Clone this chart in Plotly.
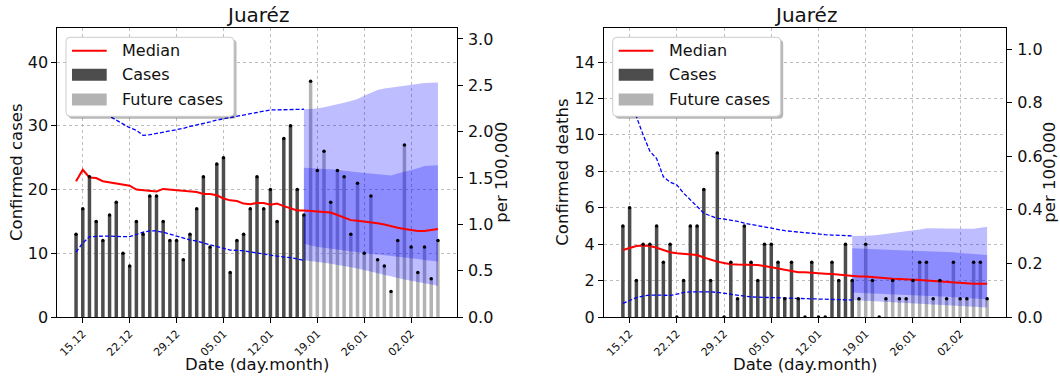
import pandas as pd
import plotly.graph_objects as go

# ---------------- data ----------------
start_date = "2020-12-14"
n_obs = 35
n_fut = 20
dates = pd.date_range(start_date, periods=n_obs + n_fut, freq="D")

tick_dates = ["2020-12-15", "2020-12-22", "2020-12-29", "2021-01-05",
              "2021-01-12", "2021-01-19", "2021-01-26", "2021-02-02"]
tick_labels = ["15.12", "22.12", "29.12", "05.01", "12.01", "19.01", "26.01", "02.02"]

# Cases (left panel)
cases_obs = [13, 17, 22, 15, 12, 16, 18, 10, 8, 15, 13, 19, 19, 15, 12, 12, 9, 13,
             17, 22, 11, 24, 25, 7, 12, 13, 17, 22, 17, 20, 15, 28, 30, 20, 16]
cases_fut = [37, 23, 26, 18, 23, 22, 13, 21, 10, 19, 9, 8, 4, 12, 27, 11, 7, 11, 6, 12]
cases_median = [21.3, 23.1, 21.9, 21.8, 21.3, 21.1, 20.9, 20.8, 20.6, 20.0, 19.9, 19.7,
                19.7, 20.1, 20.0, 19.8, 19.7, 19.7, 19.6, 19.3, 19.3, 19.1, 18.6, 18.3,
                18.2, 17.8, 17.7, 17.9, 17.9, 17.6, 17.8, 17.4, 17.0, 16.7, 16.7,
                16.6, 16.6, 16.5, 16.4, 16.0, 15.6, 15.2, 15.1, 15.0, 14.9, 14.7, 14.5,
                14.2, 14.0, 13.8, 13.6, 13.5, 13.5, 13.6, 13.8]
cases_hist_upper = [42.0, 38.5, 35.5, 33.8, 32.5, 31.5, 30.9, 30.3, 29.7, 29.3, 28.5, 28.6,
                    28.8, 29.0, 29.1, 29.3, 29.6, 29.9, 30.1, 30.4, 30.6, 30.9, 31.1, 31.4,
                    31.6, 31.8, 32.0, 32.2, 32.4, 32.5, 32.5, 32.5, 32.6, 32.6, 32.6]
cases_hist_lower = [10.2, 11.6, 12.6, 12.7, 12.7, 12.7, 12.6, 12.6, 12.6, 13.0, 13.3, 13.5,
                    13.5, 13.3, 13.0, 12.6, 12.4, 12.1, 11.9, 11.6, 11.4, 11.1, 10.8, 10.5,
                    10.45, 10.4, 10.2, 10.1, 9.9, 9.7, 9.6, 9.5, 9.3, 9.1, 8.9]
cases_outer_upper = [32.6, 32.65, 32.7, 32.9, 33.1, 33.3, 33.6, 33.9, 34.2, 34.7, 35.2,
                     35.6, 35.85, 36.0, 36.2, 36.35, 36.5, 36.6, 36.7, 36.75, 36.8]
cases_outer_lower = [8.9, 8.8, 8.7, 8.5, 8.35, 8.2, 8.0, 7.8, 7.6, 7.35, 7.05, 6.8, 6.55,
                     6.3, 6.1, 5.9, 5.7, 5.5, 5.3, 5.1, 4.9]
cases_inner_upper = [23.4, 23.35, 23.3, 23.25, 23.2, 23.1, 22.95, 22.8, 22.7, 22.6, 22.5,
                     22.4, 22.3, 22.2, 22.5, 22.75, 23.0, 23.35, 23.7, 23.8, 23.8]
cases_inner_lower = [11.5, 11.2, 11.0, 10.85, 10.7, 10.6, 10.45, 10.3, 10.2, 10.05, 9.9,
                     9.8, 9.7, 9.6, 9.5, 9.35, 9.2, 9.1, 8.95, 8.8, 8.7]

# Deaths (right panel)
deaths_obs = [5, 6, 2, 4, 4, 5, 3, 4, 0, 2, 5, 5, 7, 2, 9, 0, 3, 1, 5, 3, 2, 4, 4, 3,
              1, 3, 1, 0, 3, 0, 0, 3, 2, 4, 2]
deaths_fut = [1, 4, 2, 0, 1, 2, 1, 1, 2, 3, 3, 1, 2, 1, 3, 1, 1, 3, 3, 1]
deaths_median = [3.68, 3.8, 3.9, 3.92, 3.9, 3.8, 3.68, 3.56, 3.5, 3.46, 3.46, 3.4, 3.27,
                 3.15, 3.04, 2.97, 2.9, 2.88, 2.87, 2.87, 2.86, 2.8, 2.73, 2.65, 2.58, 2.5,
                 2.46, 2.45, 2.44, 2.41, 2.38, 2.36, 2.32, 2.28, 2.25, 2.23, 2.22, 2.18,
                 2.15, 2.12, 2.1, 2.09, 2.08, 2.07, 2.03, 2.0, 1.97, 1.94, 1.91, 1.89,
                 1.86, 1.84, 1.83, 1.83, 1.83]
deaths_hist_upper = [14.0, 12.5, 11.0, 10.0, 9.1, 8.7, 7.7, 7.4, 7.25, 6.8, 6.43, 6.1,
                     5.7, 5.55, 5.42, 5.38, 5.33, 5.25, 5.15, 5.08, 5.0, 4.96, 4.9, 4.82,
                     4.74, 4.7, 4.65, 4.63, 4.6, 4.55, 4.52, 4.5, 4.48, 4.46, 4.45]
deaths_hist_lower = [0.75, 0.9, 1.06, 1.15, 1.2, 1.2, 1.19, 1.19, 1.25, 1.35, 1.38, 1.39,
                     1.39, 1.38, 1.35, 1.3, 1.25, 1.18, 1.12, 1.1, 1.09, 1.08, 1.08, 1.06,
                     1.05, 1.04, 1.03, 1.01, 0.99, 0.97, 0.97, 0.96, 0.95, 0.94, 0.93]
deaths_outer_upper = [4.45, 4.45, 4.45, 4.48, 4.52, 4.56, 4.6, 4.65, 4.7, 4.74, 4.8, 4.87,
                      4.86, 4.84, 4.83, 4.82, 4.83, 4.84, 4.85, 4.9, 4.96]
deaths_inner_upper = [3.77, 3.75, 3.74, 3.72, 3.70, 3.68, 3.67, 3.66, 3.65, 3.64, 3.63,
                      3.62, 3.60, 3.58, 3.56, 3.55, 3.52, 3.49, 3.46, 3.43, 3.40]
deaths_inner_lower = [1.34, 1.32, 1.30, 1.29, 1.27, 1.25, 1.24, 1.22, 1.21, 1.20, 1.19,
                      1.17, 1.15, 1.13, 1.11, 1.09, 1.07, 1.05, 1.02, 1.0, 0.97]
deaths_outer_lower = [0.93, 0.91, 0.89, 0.87, 0.85, 0.83, 0.81, 0.79, 0.77, 0.76, 0.75,
                      0.73, 0.71, 0.68, 0.66, 0.63, 0.61, 0.58, 0.56, 0.54, 0.52]

population_per_100k = 14.5
title_text = "Juaréz"

# ---------------- styling ----------------
W, H = 1060, 382
FONT = "DejaVu Sans"
DARK = "#4d4d4d"
LIGHT = "#b3b3b3"
BAND = "rgba(0,0,255,0.26)"


def px(x):
    return x / W


def py(y):
    return 1 - y / H


y_dom = [py(317), py(28.3)]
panels = [
    dict(x0=57.3, x1=456.7, xa="x", ya="y", ya2="y2"),
    dict(x0=604.0, x1=1006.0, xa="x2", ya="y3", ya2="y4"),
]

obs_dates = dates[:n_obs]
fut_dates = dates[n_obs:]
band_dates = dates[n_obs - 1:]
bar_w = 0.52 * 86400000

fig = go.Figure()

datasets = [
    dict(obs=cases_obs, fut=cases_fut, med=cases_median, hu=cases_hist_upper,
         hl=cases_hist_lower, ou=cases_outer_upper, ol=cases_outer_lower,
         iu=cases_inner_upper, il=cases_inner_lower),
    dict(obs=deaths_obs, fut=deaths_fut, med=deaths_median, hu=deaths_hist_upper,
         hl=deaths_hist_lower, ou=deaths_outer_upper, ol=deaths_outer_lower,
         iu=deaths_inner_upper, il=deaths_inner_lower),
]

for p, d in zip(panels, datasets):
    xa, ya = p["xa"], p["ya"]
    fig.add_trace(go.Bar(x=obs_dates, y=d["obs"], width=bar_w, marker_color=DARK,
                         marker_line_width=0, xaxis=xa, yaxis=ya, showlegend=False))
    fig.add_trace(go.Bar(x=fut_dates, y=d["fut"], width=bar_w, marker_color=LIGHT,
                         marker_line_width=0, xaxis=xa, yaxis=ya, showlegend=False))
    for lo, hi in ((d["ol"], d["ou"]), (d["il"], d["iu"])):
        fig.add_trace(go.Scatter(x=band_dates, y=lo, mode="lines", line=dict(width=0),
                                 xaxis=xa, yaxis=ya, showlegend=False, hoverinfo="skip"))
        fig.add_trace(go.Scatter(x=band_dates, y=hi, mode="lines", line=dict(width=0),
                                 fill="tonexty", fillcolor=BAND, xaxis=xa, yaxis=ya,
                                 showlegend=False, hoverinfo="skip"))
    for series in (d["hu"], d["hl"]):
        fig.add_trace(go.Scatter(x=obs_dates, y=series, mode="lines",
                                 line=dict(color="#0000ff", width=1.3, dash="4px,2px"),
                                 xaxis=xa, yaxis=ya, showlegend=False))
    fig.add_trace(go.Scatter(x=dates, y=d["med"], mode="lines",
                             line=dict(color="#ff0000", width=2),
                             xaxis=xa, yaxis=ya, showlegend=False))
    fig.add_trace(go.Scatter(x=dates, y=list(d["obs"]) + list(d["fut"]), mode="markers",
                             marker=dict(color="black", size=3.5),
                             xaxis=xa, yaxis=ya, showlegend=False))
    # per-100k axis (invisible reference trace)
    fig.add_trace(go.Scatter(x=obs_dates, y=[v / population_per_100k for v in d["obs"]],
                             mode="markers", marker=dict(opacity=0), xaxis=xa,
                             yaxis=p["ya2"], showlegend=False, hoverinfo="skip"))

x_range = [pd.Timestamp(start_date) - pd.Timedelta(days=2.8),
           pd.Timestamp(start_date) + pd.Timedelta(days=56.8)]

axis_common = dict(showline=True, linecolor="black", linewidth=1, ticks="outside",
                   ticklen=5, tickcolor="black", tickwidth=1, automargin=False,
                   tickfont=dict(family=FONT, size=16, color="#111"), zeroline=False)
grid = dict(showgrid=True, gridcolor="#bdbdbd", gridwidth=0.8, griddash="dot")

layout = dict(
    width=W, height=H, margin=dict(l=0, r=0, t=0, b=0, pad=0, autoexpand=False),
    paper_bgcolor="white", plot_bgcolor="white", barmode="overlay",
    showlegend=False, font=dict(family=FONT, color="#111"),
)
y_ranges = [(45.3, 10, 3.115, 0.5), (15.85, 2, 1.078, 0.2)]
for i, (p, (ymax, ydt, y2max, y2dt)) in enumerate(zip(panels, y_ranges)):
    xk = "xaxis" if i == 0 else "xaxis2"
    yk = "yaxis" if i == 0 else "yaxis3"
    y2k = "yaxis2" if i == 0 else "yaxis4"
    layout[xk] = dict(domain=[px(p["x0"]), px(p["x1"])], anchor=p["ya"], type="date",
                      range=x_range, tickvals=tick_dates, ticktext=tick_labels,
                      tickangle=-45, mirror=True, **grid,
                      **{**axis_common, "tickfont": dict(family=FONT, size=11, color="#111")})
    layout[yk] = dict(domain=y_dom, anchor=p["xa"], range=[0, ymax], dtick=ydt, tick0=0,
                      **grid, **axis_common)
    layout[y2k] = dict(overlaying=p["ya"], side="right", anchor=p["xa"], range=[0, y2max],
                       dtick=y2dt, tick0=0, tickformat=".1f", showgrid=False,
                       ticklabelstandoff=2, **axis_common)

fig.update_layout(**layout)

# ---------------- titles / labels ----------------
def ann(text, x, y, size, angle=0, xanchor="center"):
    fig.add_annotation(text=text, x=px(x), y=py(y), xref="paper", yref="paper",
                       showarrow=False, textangle=angle, xanchor=xanchor, yanchor="middle",
                       font=dict(family=FONT, size=size, color="#111"))

ycenter = (317 + 28.3) / 2
for p, ylab, rx in ((panels[0], "Confirmed cases", 502), (panels[1], "Confirmed deaths", 1050)):
    cx = (p["x0"] + p["x1"]) / 2
    ann(title_text, cx, 15, 20)
    ann("Date (day.month)", cx, 364, 16.5)
    ann(ylab, p["x0"] - 41, ycenter, 16.5, angle=-90)
    ann("per 100,000", rx, ycenter, 16.5, angle=-90)

# ---------------- legends (matplotlib style) ----------------
shapes = []


def rounded(x0, y0, x1, y1, r):
    pts = [
        f"M {px(x0 + r)},{py(y0)}", f"L {px(x1 - r)},{py(y0)}",
        f"Q {px(x1)},{py(y0)} {px(x1)},{py(y0 + r)}", f"L {px(x1)},{py(y1 - r)}",
        f"Q {px(x1)},{py(y1)} {px(x1 - r)},{py(y1)}", f"L {px(x0 + r)},{py(y1)}",
        f"Q {px(x0)},{py(y1)} {px(x0)},{py(y1 - r)}", f"L {px(x0)},{py(y0 + r)}",
        f"Q {px(x0)},{py(y0)} {px(x0 + r)},{py(y0)}", "Z",
    ]
    return " ".join(pts)


legend_labels = ["Median", "Cases", "Future cases"]
for p in panels:
    bx0 = p["x0"] + 8.7
    bx1 = bx0 + 168
    by0, by1 = 37.3, 116.3
    shapes.append(dict(type="path", path=rounded(bx0 + 2.5, by0 + 2.5, bx1 + 2.5, by1 + 2.5, 4),
                       xref="paper", yref="paper", fillcolor="rgba(0,0,0,0.28)",
                       line=dict(width=0), layer="above"))
    shapes.append(dict(type="path", path=rounded(bx0, by0, bx1, by1, 4),
                       xref="paper", yref="paper", fillcolor="white",
                       line=dict(color="#cccccc", width=1), layer="above"))
    sx0, sx1 = bx0 + 6, bx0 + 40.7
    shapes.append(dict(type="line", x0=px(sx0), x1=px(sx1), y0=py(50.7), y1=py(50.7),
                       xref="paper", yref="paper", line=dict(color="#ff0000", width=2),
                       layer="above"))
    for (yy0, yy1), col in (((68.7, 80.7), DARK), ((93.5, 105.5), LIGHT)):
        shapes.append(dict(type="rect", x0=px(sx0), x1=px(sx1), y0=py(yy0), y1=py(yy1),
                           xref="paper", yref="paper", fillcolor=col, line=dict(width=0),
                           layer="above"))
    for lab, yc in zip(legend_labels, (50.7, 74.7, 99.5)):
        ann(lab, bx0 + 54, yc, 16, xanchor="left")

fig.update_layout(shapes=shapes)
fig.write_html("out.html", config={"displayModeBar": False},
               post_script="document.body.style.margin='0px';"
                           "document.body.style.overflow='hidden';")
